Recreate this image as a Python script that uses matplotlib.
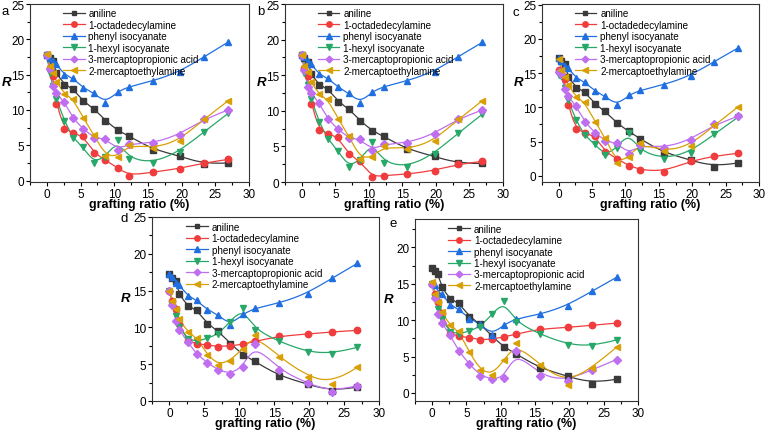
import numpy as np
import matplotlib
matplotlib.use('Agg')
import matplotlib.pyplot as plt
from matplotlib.lines import Line2D
from matplotlib.ticker import MultipleLocator

plt.rcParams['font.family'] = ['Liberation Sans', 'DejaVu Sans']

# grafting ratio (%) shared by all series
x_ratio = [0, 0.4, 0.9, 1.4, 2.6, 3.9, 5.4, 7.0, 8.7, 10.5, 12.2, 15.7, 19.8, 23.3, 26.9]

series_names = ['aniline', '1-octadedecylamine', 'phenyl isocyanate', '1-hexyl isocyanate',
                '3-mercaptopropionic acid', '2-mercaptoethylamine']

# panel a
a_aniline = [17.8, 17.4, 16.9, 15.2, 13.6, 13.0, 11.2, 10.2, 8.5, 7.1, 6.3, 4.4, 3.5, 2.3, 2.5]
a_octadecyl = [17.8, 16.0, 14.8, 10.9, 7.3, 6.7, 6.3, 3.9, 2.9, 1.8, 0.7, 1.2, 1.7, 2.5, 3.0]
a_phenyl = [17.8, 17.4, 16.9, 16.5, 15.0, 14.5, 13.1, 12.4, 11.0, 12.6, 13.3, 14.1, 15.4, 17.5, 19.6]
a_hexyl = [17.8, 15.2, 13.4, 11.6, 8.5, 6.0, 4.7, 2.5, 3.4, 5.7, 3.1, 2.5, 4.1, 6.9, 9.5]
a_mpa = [17.8, 15.8, 13.4, 12.4, 11.1, 8.8, 7.3, 6.1, 5.9, 4.4, 5.2, 5.3, 6.5, 8.7, 10.0]
a_mea = [17.9, 16.2, 15.3, 14.0, 12.3, 11.6, 8.8, 6.5, 3.5, 3.4, 5.1, 4.6, 5.6, 8.7, 11.3]

# panel b
b_aniline = [17.9, 17.4, 16.9, 15.2, 13.6, 13.1, 11.3, 10.3, 8.6, 7.2, 6.4, 4.6, 3.6, 2.6, 2.6]
b_octadecyl = [17.9, 16.0, 14.9, 11.0, 7.3, 6.8, 6.3, 3.9, 2.9, 0.7, 0.9, 1.1, 1.6, 2.5, 2.9]
b_phenyl = [17.9, 17.5, 17.0, 16.6, 15.1, 14.6, 13.3, 12.5, 11.1, 12.7, 13.4, 14.2, 15.5, 17.6, 19.6]
b_hexyl = [17.9, 15.3, 13.6, 11.7, 8.4, 6.0, 4.4, 2.1, 3.1, 5.6, 2.7, 2.1, 3.9, 6.9, 9.5]
b_mpa = [17.9, 15.8, 13.4, 12.5, 11.1, 8.8, 7.4, 6.2, 6.0, 4.5, 5.3, 5.5, 6.7, 8.9, 10.1]
b_mea = [17.9, 16.3, 15.4, 14.0, 12.3, 11.6, 8.9, 6.5, 3.3, 3.5, 5.0, 4.6, 5.7, 8.8, 11.4]

# panel c
c_aniline = [17.2, 16.8, 16.3, 14.5, 12.9, 12.3, 10.5, 9.4, 7.7, 6.5, 5.4, 3.4, 2.3, 1.3, 1.9]
c_octadecyl = [15.5, 15.0, 14.1, 10.3, 6.8, 6.3, 5.8, 3.5, 2.5, 1.5, 0.9, 0.6, 2.2, 2.9, 3.3]
c_phenyl = [17.2, 16.8, 16.1, 15.8, 14.3, 13.7, 12.4, 11.6, 10.3, 11.8, 12.5, 13.3, 14.6, 16.7, 18.7]
c_hexyl = [14.8, 14.6, 12.8, 11.1, 8.1, 5.9, 4.6, 3.0, 4.1, 6.3, 3.6, 2.5, 3.4, 6.1, 8.6]
c_mpa = [15.2, 14.9, 12.7, 11.6, 10.2, 7.9, 6.3, 5.1, 4.8, 3.2, 4.5, 4.1, 5.2, 7.5, 8.7]
c_mea = [17.1, 15.5, 14.5, 13.3, 11.5, 10.8, 7.9, 5.5, 1.9, 2.7, 4.8, 3.6, 4.3, 7.4, 10.1]

# panel d
d_aniline = [17.2, 16.7, 16.3, 14.5, 12.9, 12.4, 10.5, 9.5, 7.8, 6.3, 5.4, 3.4, 2.3, 1.3, 1.9]
d_octadecyl = [15.0, 13.6, 12.5, 10.5, 8.1, 7.8, 7.6, 7.4, 7.5, 7.7, 8.1, 8.8, 9.1, 9.4, 9.6]
d_phenyl = [17.3, 16.9, 16.1, 15.8, 14.3, 13.7, 12.4, 11.7, 10.3, 11.8, 12.6, 13.3, 14.6, 16.7, 18.7]
d_hexyl = [15.0, 13.0, 11.5, 10.1, 8.4, 8.1, 8.5, 9.1, 10.8, 12.6, 9.7, 8.1, 6.6, 6.4, 7.3]
d_mpa = [15.0, 13.1, 10.9, 9.7, 8.0, 6.4, 5.2, 4.2, 3.7, 4.6, 7.8, 4.2, 2.4, 1.2, 2.1]
d_mea = [15.0, 13.6, 12.5, 11.1, 9.4, 8.6, 6.3, 4.9, 5.5, 7.1, 9.0, 6.0, 3.3, 2.3, 4.6]

# panel e
e_aniline = [17.2, 16.7, 16.3, 14.5, 12.9, 12.4, 10.5, 9.5, 7.8, 6.3, 5.4, 3.4, 2.3, 1.3, 1.9]
e_octadecyl = [15.0, 13.6, 12.5, 11.0, 8.1, 7.8, 7.6, 7.3, 7.4, 7.7, 8.1, 8.8, 9.0, 9.3, 9.6]
e_phenyl = [15.1, 14.8, 13.8, 13.6, 12.1, 11.5, 10.2, 9.5, 8.0, 9.4, 10.2, 10.8, 12.0, 14.0, 15.9]
e_hexyl = [15.0, 13.0, 11.5, 10.1, 8.4, 8.1, 8.5, 9.1, 10.8, 12.6, 9.7, 8.1, 6.6, 6.4, 7.3]
e_mpa = [15.0, 13.0, 10.8, 9.6, 8.0, 5.7, 4.0, 2.4, 1.9, 2.1, 5.8, 2.4, 1.6, 3.2, 4.6]
e_mea = [15.2, 13.6, 12.5, 11.1, 9.3, 8.5, 5.6, 3.2, 2.5, 4.5, 6.8, 3.9, 1.1, 3.5, 6.3]

colors = ['#3a3a3a', '#f03c3c', '#1f6fe0', '#27a868', '#c06ef0', '#d9a005']
markers = ['s', 'o', '^', 'v', 'D', '<']
msizes = [4.2, 4.6, 4.8, 4.8, 4.0, 4.8]


def bspline(x, y, k=3, n=400):
    # clamped cubic B-spline using the points as control points (like Origin's B-spline)
    pts = np.column_stack([x, y]).astype(float)
    m = len(pts)
    kv = np.concatenate([np.zeros(k), np.linspace(0, 1, m - k + 1), np.ones(k)])
    t = np.linspace(0, 1, n)
    t[-1] = 1 - 1e-10
    B = np.array([(kv[i] <= t) & (t < kv[i + 1]) for i in range(len(kv) - 1)], float).T
    for d in range(1, k + 1):
        Bn = np.zeros((n, len(kv) - 1 - d))
        for i in range(len(kv) - 1 - d):
            den1 = kv[i + d] - kv[i]
            den2 = kv[i + d + 1] - kv[i + 1]
            left = (t - kv[i]) / den1 * B[:, i] if den1 > 0 else 0
            right = (kv[i + d + 1] - t) / den2 * B[:, i + 1] if den2 > 0 else 0
            Bn[:, i] = left + right
        B = Bn
    c = B @ pts
    return c[:, 0], c[:, 1]


W, H = 768, 431
fig = plt.figure(figsize=(W / 100, H / 100), dpi=100)

# (label, data, left, right, top, bottom in pixels, ylim, label pos)
panels = [
    ('a', [a_aniline, a_octadecyl, a_phenyl, a_hexyl, a_mpa, a_mea], 30, 249, 5, 183, (-0.2, 25), (5, 12)),
    ('b', [b_aniline, b_octadecyl, b_phenyl, b_hexyl, b_mpa, b_mea], 285, 503, 5, 183, (0, 25), (261, 12)),
    ('c', [c_aniline, c_octadecyl, c_phenyl, c_hexyl, c_mpa, c_mea], 542, 759, 5, 183, (-0.9, 25.1), (516, 13)),
    ('d', [d_aniline, d_octadecyl, d_phenyl, d_hexyl, d_mpa, d_mea], 152, 379, 218, 402, (0, 25), (124, 219)),
    ('e', [e_aniline, e_octadecyl, e_phenyl, e_hexyl, e_mpa, e_mea], 415, 638, 220, 402, (-1.1, 23.9), (393, 224)),
]

for lab, data, l, r, t, b, ylim, lpos in panels:
    ax = fig.add_axes([l / W, (H - b) / H, (r - l) / W, (b - t) / H])
    handles = []
    for i, yv in enumerate(data):
        sx, sy = bspline(x_ratio, yv)
        ax.plot(sx, sy, color=colors[i], lw=0.9, zorder=2)
        ax.plot(x_ratio, yv, ls='none', marker=markers[i], ms=msizes[i],
                color=colors[i], mec=colors[i], zorder=3)
        handles.append(Line2D([], [], color=colors[i], lw=0.9, marker=markers[i],
                              ms=msizes[i] * 0.85))
    ax.set_xlim(-2.5, 30)
    ax.set_ylim(*ylim)
    ax.xaxis.set_major_locator(MultipleLocator(5))
    ax.xaxis.set_minor_locator(MultipleLocator(2.5))
    ax.yaxis.set_major_locator(MultipleLocator(5))
    ax.yaxis.set_minor_locator(MultipleLocator(2.5))
    ax.tick_params(which='major', direction='out', length=3, width=0.8, labelsize=8.5, pad=1.0)
    ax.tick_params(which='minor', direction='out', length=2, width=0.8)
    for s in ax.spines.values():
        s.set_linewidth(0.8)
        s.set_color('#333333')
    ax.set_xlabel('grafting ratio (%)', fontsize=9, fontweight='bold', labelpad=-1.0)
    ax.set_ylabel('R', fontsize=9.5, fontweight='bold', fontstyle='italic', rotation=0,
                  ha='center', va='center')
    ax.yaxis.set_label_coords(-0.108 if lab in 'abc' else -0.118, 0.56)
    ax.legend(handles, series_names, loc='upper left', bbox_to_anchor=(0.15, 0.975),
              frameon=False, fontsize=7.1, handlelength=2.2, handletextpad=0.4,
              labelspacing=0.15, borderpad=0, borderaxespad=0)
    fig.text(lpos[0] / W, 1 - lpos[1] / H, lab, fontsize=9.5, ha='center', va='center')

fig.savefig('out.png', dpi=100)
